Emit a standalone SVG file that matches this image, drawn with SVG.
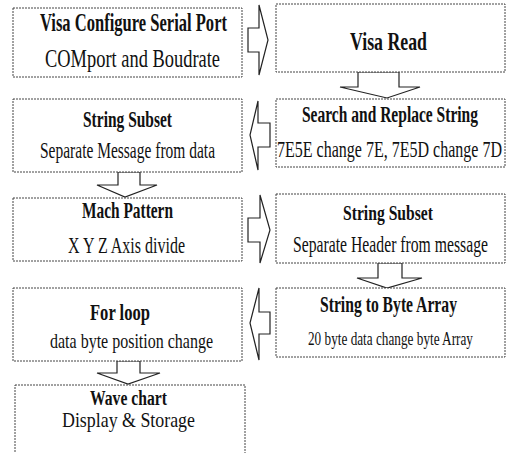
<svg xmlns="http://www.w3.org/2000/svg" width="509" height="453" viewBox="0 0 509 453">
<style>
.box{fill:#fff;stroke:#444;stroke-width:1;stroke-dasharray:2 1}
.arr{fill:#fff;stroke:#222;stroke-width:1.2;stroke-linejoin:miter}
.t{font-family:"Liberation Serif","Times New Roman",serif;font-weight:bold;fill:#111}
.s{font-family:"Liberation Serif","Times New Roman",serif;fill:#111}
</style>
<rect width="509" height="453" fill="#fff"/>
<g id="connectors">
<polygon class="arr" points="248,28 259,28 259,5 268,40 259,75 259,52 248,52"/>
<polygon class="arr" points="270,123 258,123 258,101 250,135 258,170 258,147 270,147"/>
<polygon class="arr" points="248,218 260,218 260,195 270,230 260,263 260,242 248,242"/>
<polygon class="arr" points="270,312 259,312 259,288 250,323 259,360 259,334 270,334"/>
<polygon class="arr" points="358,72 399,72 399,87 420,87 387,98 340,87 358,87"/>
<polygon class="arr" points="378,263 402,263 402,278 422,278 387,288 357,278 378,278"/>
<polygon class="arr" points="118,172 140,172 140,185 157,185 125,197 97,185 118,185"/>
<polygon class="arr" points="117,361 140,361 140,373 160,373 128,384 97,373 117,373"/>
</g>
<g id="n1">
<rect class="box" x="13" y="8" width="229" height="69"/>
<text class="t" transform="translate(0,31) scale(1,1.52)" x="40" y="0" font-size="16.5" textLength="187" lengthAdjust="spacingAndGlyphs">Visa Configure Serial Port</text>
<text class="s" transform="translate(0,67) scale(1,1.36)" x="45" y="0" font-size="18.4" textLength="175" lengthAdjust="spacingAndGlyphs">COMport and Boudrate</text>
</g>
<g id="n2">
<rect class="box" x="13" y="99" width="229" height="73"/>
<text class="t" transform="translate(0,127) scale(1,1.48)" x="83" y="0" font-size="15.5" textLength="89" lengthAdjust="spacingAndGlyphs">String Subset</text>
<text class="s" transform="translate(0,158) scale(1,1.55)" x="40" y="0" font-size="15.5" textLength="175" lengthAdjust="spacingAndGlyphs">Separate Message from data</text>
</g>
<g id="n3">
<rect class="box" x="13" y="198" width="229" height="63"/>
<text class="t" transform="translate(0,218) scale(1,1.5)" x="82" y="0" font-size="15.4" textLength="91" lengthAdjust="spacingAndGlyphs">Mach Pattern</text>
<text class="s" transform="translate(0,253) scale(1,1.46)" x="68" y="0" font-size="15.7" textLength="117" lengthAdjust="spacingAndGlyphs">X Y Z Axis divide</text>
</g>
<g id="n4">
<rect class="box" x="13" y="288" width="229" height="73"/>
<text class="t" transform="translate(0,320) scale(1,1.45)" x="90" y="0" font-size="16.5" textLength="60" lengthAdjust="spacingAndGlyphs">For loop</text>
<text class="s" transform="translate(0,348) scale(1,1.31)" x="50" y="0" font-size="16" textLength="163" lengthAdjust="spacingAndGlyphs">data byte position change</text>
</g>
<g id="n5">
<rect class="box" x="15" y="385" width="230" height="75"/>
<text class="t" transform="translate(0,405) scale(1,1.29)" x="90" y="0" font-size="15.5" textLength="77" lengthAdjust="spacingAndGlyphs">Wave chart</text>
<text class="s" transform="translate(0,427) scale(1,1.17)" x="62" y="0" font-size="17.9" textLength="133" lengthAdjust="spacingAndGlyphs">Display &amp; Storage</text>
</g>
<g id="r1">
<rect class="box" x="276" y="4" width="229" height="68"/>
<text class="t" transform="translate(0,50) scale(1,1.41)" x="350" y="0" font-size="17.7" textLength="77" lengthAdjust="spacingAndGlyphs">Visa Read</text>
</g>
<g id="r2">
<rect class="box" x="276" y="99" width="229" height="68"/>
<text class="t" transform="translate(0,122) scale(1,1.48)" x="302" y="0" font-size="15.5" textLength="176" lengthAdjust="spacingAndGlyphs">Search and Replace String</text>
<text class="s" transform="translate(0,157) scale(1,1.5)" x="277" y="0" font-size="16" textLength="225" lengthAdjust="spacingAndGlyphs">7E5E change 7E, 7E5D change 7D</text>
</g>
<g id="r3">
<rect class="box" x="276" y="194" width="229" height="69"/>
<text class="t" transform="translate(0,220) scale(1,1.35)" x="343" y="0" font-size="15.6" textLength="90" lengthAdjust="spacingAndGlyphs">String Subset</text>
<text class="s" transform="translate(0,252) scale(1,1.53)" x="293" y="0" font-size="15.7" textLength="195" lengthAdjust="spacingAndGlyphs">Separate Header from message</text>
</g>
<g id="r4">
<rect class="box" x="276" y="288" width="229" height="69"/>
<text class="t" transform="translate(0,312) scale(1,1.54)" x="320" y="0" font-size="15.6" textLength="137" lengthAdjust="spacingAndGlyphs">String to Byte Array</text>
<text class="s" transform="translate(0,345) scale(1,1.36)" x="308" y="0" font-size="13.2" textLength="165" lengthAdjust="spacingAndGlyphs">20 byte data change byte Array</text>
</g>
</svg>
